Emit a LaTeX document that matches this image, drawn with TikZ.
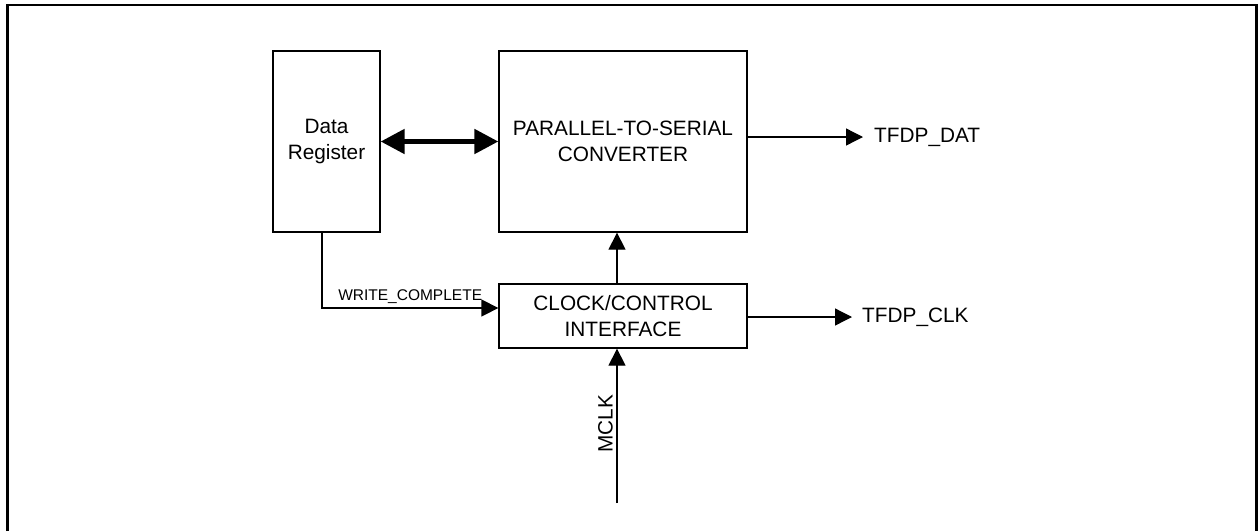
\documentclass[tikz,border=0pt]{standalone}
\usepackage{fontspec}
\setmainfont{Liberation Sans}
\usetikzlibrary{arrows.meta,positioning}

\begin{document}
\begin{tikzpicture}[
  x=1pt, y=-1pt,
  box/.style={draw, line width=1.3pt, align=center, inner sep=0pt,
    font=\fontsize{20.8}{25.5}\selectfont},
  arr/.style={-{Triangle[length=17pt, width=17pt]}, line width=1.3pt},
  bus/.style={{Triangle[length=24pt, width=24pt]}-{Triangle[length=24pt, width=24pt]}, line width=5pt},
  sig/.style={font=\fontsize{20.8}{25}\selectfont, inner sep=0pt},
  note/.style={font=\fontsize{15.5}{18}\selectfont, inner sep=0pt}
]
\useasboundingbox (0,0) rectangle (1258,531);
% outer frame (open at the bottom)
\draw[line width=2.3pt] (7.5,531) -- (7.5,5) -- (1256.5,5) -- (1256.5,531);

\node[box, minimum width=107pt, minimum height=181pt] (dreg) at (326.5,141.5) {Data\\Register};
\node[box, minimum width=248pt, minimum height=181pt] (p2s) at (623,141.5) {PARALLEL-TO-SERIAL\\CONVERTER};
\node[box, minimum width=248pt, minimum height=64pt] (clk) at (623,316) {CLOCK/CONTROL\\INTERFACE};

\node[sig, anchor=west, inner xsep=11pt] (dat) at (863,137) {TFDP\_DAT};
\node[sig, anchor=west, inner xsep=10pt] (tclk) at (852,317) {TFDP\_CLK};
\coordinate (mclk) at (617,503);
\node[sig, rotate=90, anchor=south] (mlab) at (613,424) {MCLK};

\draw[bus] (dreg.east) -- (p2s.west);
\draw[arr] (mclk |- clk.north) -- (mclk |- p2s.south);
\draw[arr] (p2s.east |- dat.west) -- (dat.west);
\draw[arr] (clk.east |- tclk.west) -- (tclk.west);
\draw[arr] (mclk) -- (mclk |- clk.south);
\draw[arr] ([xshift=-4.5pt]dreg.south) |- node[note, pos=0.75, above=4pt]{WRITE\_COMPLETE} ([yshift=8pt]clk.west);
\end{tikzpicture}
\end{document}
